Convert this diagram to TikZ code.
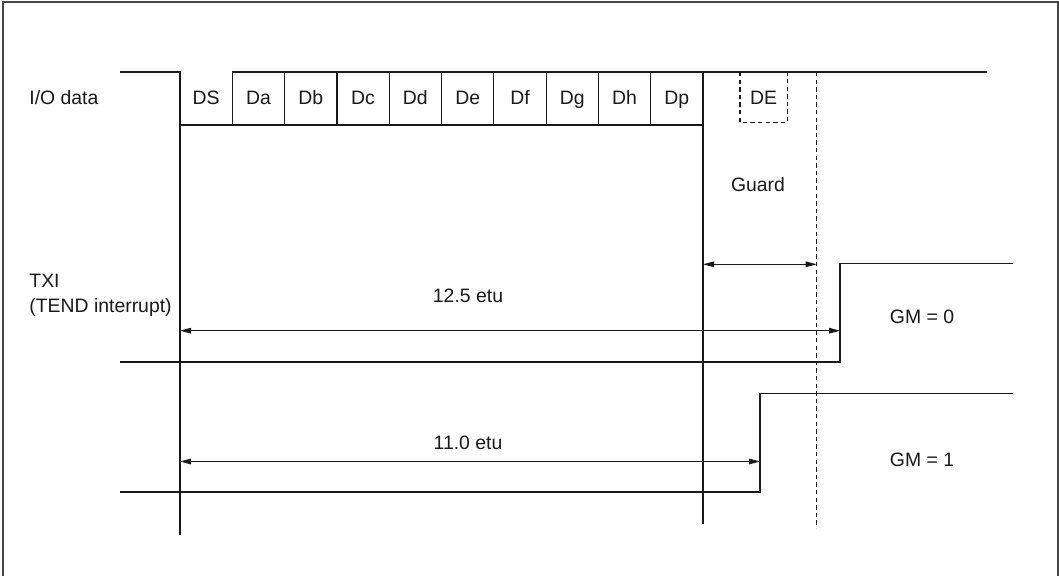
\documentclass[tikz,border=0pt]{standalone}
\usepackage{fontspec}
\setmainfont{Liberation Sans}
\usetikzlibrary{arrows.meta,positioning}
\definecolor{sig}{RGB}{25,25,25}
\definecolor{frm}{RGB}{70,70,70}
\tikzset{
  sigl/.style={line width=0.6pt,color=sig},
  dsh/.style={sigl,dash pattern=on 2.2pt off 1.6pt},
  dimarr/.style={{Triangle[length=5.5pt,width=2.8pt]}-{Triangle[length=5.5pt,width=2.8pt]},line width=0.5pt,color=sig},
  lbl/.style={font=\fontsize{9.7}{12.5}\selectfont,inner sep=1pt,text=sig},
  celllbl/.style={lbl,anchor=base},
}

\begin{document}
\begin{tikzpicture}[x=0.5pt,y=-0.5pt]
    \useasboundingbox (0,0) rectangle (1059,576);
    \draw[frm,line width=0.9pt] (3,2) rectangle (1058,577);

    % Signal names
    \node[lbl,anchor=west] (io) at (27,98) {I/O data};
    \node[lbl,anchor=west,align=left] (txi) at (27,295) {TXI\\(TEND interrupt)};

    % Data frame cells
    \foreach \lab [count=\i from 0] in {DS,Da,Db,Dc,Dd,De,Df,Dg,Dh,Dp} {
      \node[celllbl] (c\lab) at ({180+52.3*(\i+0.5)},104.8) {\lab};
      \draw[sigl] ({180+52.3*\i},72) -- ({180+52.3*\i},125);
    }
    \node[celllbl] (cDE) at (763.6,104.8) {DE};
    \draw[dsh] (740,72) -- (740,122.5) -- (787.3,122.5) -- (787.3,72);

    % I/O data line
    \draw[sigl] (120,72) -- (180,72) -- (180,125) -- (703,125);
    \draw[sigl] (232.3,72) -- (987,72);

    % Timing references
    \coordinate (t0top) at (180,125);
    \coordinate (t0bot) at (180,535);
    \coordinate (tptop) at (703,72);
    \coordinate (tpbot) at (703,524);
    \coordinate (tgtop) at (816.7,72);
    \coordinate (tgbot) at (816.7,528);
    \draw[sigl] (t0top) -- (t0bot);
    \draw[sigl] (tptop) -- (tpbot);
    \draw[dsh] (tgtop) -- (tgbot);

    % Guard time
    \node[lbl] (guard) at (758,185) {Guard};
    \coordinate (gdL) at (703,264.3);
    \coordinate (gdR) at (816.7,264.3);
    \draw[dimarr] (gdL) -- (gdR);

    % TXI, GM = 0
    \draw[sigl] (120,362) -- (840,362) -- (840,263.7) -- (1013,263.7);
    \coordinate (aL) at (180,330.7);
    \coordinate (aR) at (840,330.7);
    \draw[dimarr] (aL) -- (aR);
    \node[lbl] (etua) at (468,296) {12.5 etu};
    \node[lbl] (gm0) at (922,316.7) {GM = 0};

    % TXI, GM = 1
    \draw[sigl] (120,492) -- (760,492) -- (760,393.7) -- (1013,393.7);
    \coordinate (bL) at (180,461.5);
    \coordinate (bR) at (760,461.5);
    \draw[dimarr] (bL) -- (bR);
    \node[lbl] (etub) at (468,443) {11.0 etu};
    \node[lbl] (gm1) at (922,460) {GM = 1};
  \end{tikzpicture}
\end{document}
